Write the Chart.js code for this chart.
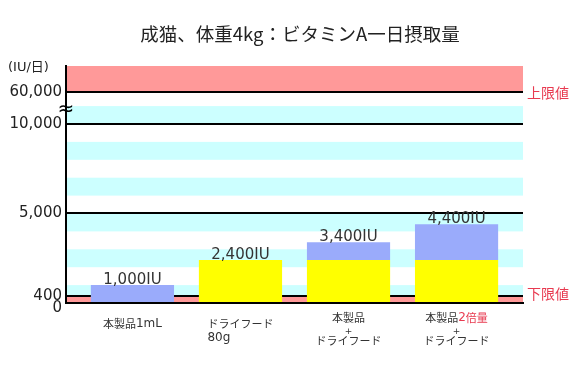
<!DOCTYPE html>
<html>
<head>
<meta charset="utf-8">
<script src="https://cdn.jsdelivr.net/npm/chart.js@4.4.0/dist/chart.umd.min.js"></script>
<style>
  body { margin: 0; background: #fff; }
  #wrap { width: 580px; height: 365px; }
</style>
</head>
<body>
<div id="wrap"><canvas id="myChart" width="580" height="365"></canvas></div>
<script>
// データ
var chartTitle = '成猫、体重4kg：ビタミンA一日摂取量';
var unitLabel = '(IU/日)';
var categories = [
    ['本製品1mL'],
    ['ドライフード', '80g'],
    ['本製品', '+', 'ドライフード'],
    ['本製品2倍量', '+', 'ドライフード']
];
var redPart = ['', '', '', '2倍量'];
var dryFood = [0, 2400, 2400, 2400];
var product = [1000, 0, 1000, 2000];
var yTicks = [0, 400, 5000, 10000, 60000];
var yTickLabels = ['0', '400', '5,000', '10,000', '60,000'];
var lowerLimit = 400;
var upperLimit = 60000;
var axisBreak = 10000;
var limitLabels = ['上限値', '下限値'];

var RED = '#e83a50';
var xLabelAlign = ['center', 'left', 'center', 'center'];
var CJK_FONT = '11px "Noto Sans CJK JP"';
var LATIN_FONT = '12px "DejaVu Sans"';

// 10,000 から上は軸を詰める (≈)
function toAxis(v) {
    if (v <= axisBreak) return v;
    return axisBreak + (v - axisBreak) * 0.0358;
}

function points(arr) {
    return arr.map(function (v, i) { return { x: i + 1, y: toAxis(v) }; });
}

// 英数字と日本語でフォントを分けて書く
function runs(text) {
    return text.match(/[\x00-\x7f]+|[^\x00-\x7f]+/g) || [];
}
function runsWidth(ctx, text) {
    var w = 0;
    runs(text).forEach(function (r) {
        ctx.font = /^[\x00-\x7f]/.test(r) ? LATIN_FONT : CJK_FONT;
        w += ctx.measureText(r).width;
    });
    return w;
}
function drawRuns(ctx, text, x, y, color) {
    ctx.fillStyle = color;
    ctx.textAlign = 'left';
    runs(text).forEach(function (r) {
        ctx.font = /^[\x00-\x7f]/.test(r) ? LATIN_FONT : CJK_FONT;
        ctx.fillText(r, x, y);
        x += ctx.measureText(r).width;
    });
    return x;
}

var backPlugin = {
    id: 'back',
    beforeDraw: function (chart) {
        var ctx = chart.ctx, area = chart.chartArea, ys = chart.scales.y;
        var w = area.right - area.left;
        ctx.save();
        ctx.fillStyle = '#ccffff';
        for (var s = 0; s <= axisBreak; s += 2000) {
            var top = ys.getPixelForValue(s + 1000);
            var bot = ys.getPixelForValue(Math.max(s, lowerLimit));
            ctx.fillRect(area.left, top, w, bot - top);
        }
        ctx.fillStyle = '#ff9999';
        var t = ys.getPixelForValue(toAxis(upperLimit));
        ctx.fillRect(area.left, area.top, w, t - area.top);
        var b = ys.getPixelForValue(lowerLimit);
        ctx.fillRect(area.left, b, w, area.bottom - b);
        ctx.restore();
    }
};

var labelPlugin = {
    id: 'labels',
    afterDatasetsDraw: function (chart) {
        var ctx = chart.ctx, area = chart.chartArea;
        var xs = chart.scales.x, ys = chart.scales.y;
        ctx.save();

        // 下の軸線
        ctx.strokeStyle = '#000';
        ctx.lineWidth = 2;
        ctx.beginPath();
        ctx.moveTo(area.left - 1, area.bottom);
        ctx.lineTo(area.right, area.bottom);
        ctx.stroke();

        // 棒の上の値
        ctx.fillStyle = '#333';
        ctx.font = '15px "DejaVu Sans"';
        ctx.textAlign = 'center';
        ctx.textBaseline = 'alphabetic';
        for (var i = 0; i < categories.length; i++) {
            var total = dryFood[i] + product[i];
            ctx.fillText(total.toLocaleString('en-US') + 'IU',
                xs.getPixelForValue(i + 1), ys.getPixelForValue(toAxis(total)) - 1);
        }

        // x ラベル
        ctx.textBaseline = 'middle';
        categories.forEach(function (lines, i) {
            var cx = xs.getPixelForValue(i + 1);
            var yy = area.bottom + (lines.length > 2 ? 15 : 20.5);
            var maxW = 0;
            lines.forEach(function (l) { maxW = Math.max(maxW, runsWidth(ctx, l)); });
            lines.forEach(function (line) {
                if (line === '+') {
                    ctx.font = '9px "DejaVu Sans"';
                    ctx.fillStyle = '#333';
                    ctx.textAlign = 'center';
                    ctx.fillText(line, cx, yy);
                    yy += 9;
                    return;
                }
                var w = runsWidth(ctx, line);
                var start = xLabelAlign[i] === 'left' ? cx - maxW / 2 : cx - w / 2;
                var red = redPart[i];
                if (red && line.slice(-red.length) === red) {
                    var pre = line.slice(0, line.length - red.length);
                    var nx = drawRuns(ctx, pre, start, yy, '#333');
                    drawRuns(ctx, red, nx, yy, RED);
                } else {
                    drawRuns(ctx, line, start, yy, '#333');
                }
                yy += 14;
            });
        });

        // y ラベル
        ctx.font = '15px "DejaVu Sans"';
        ctx.fillStyle = '#222';
        ctx.textAlign = 'right';
        yTicks.forEach(function (v, i) {
            var py = ys.getPixelForValue(toAxis(v));
            if (v === 0) py += 5;
            ctx.fillText(yTickLabels[i], area.left - 4, py);
        });

        ctx.font = '13px "DejaVu Sans", "Noto Sans CJK JP"';
        ctx.textAlign = 'left';
        ctx.fillText(unitLabel, 8, area.top + 2);

        // 省略記号
        ctx.font = '20px "DejaVu Sans"';
        ctx.textAlign = 'center';
        ctx.fillStyle = '#000';
        var pBreak = (ys.getPixelForValue(axisBreak) + ys.getPixelForValue(toAxis(upperLimit))) / 2;
        ctx.fillText('≈', area.left, pBreak + 2);

        // 上限値・下限値
        ctx.font = '14px "Noto Sans CJK JP"';
        ctx.fillStyle = RED;
        ctx.textAlign = 'left';
        ctx.fillText(limitLabels[0], area.right + 4, ys.getPixelForValue(toAxis(upperLimit)) + 1);
        ctx.fillText(limitLabels[1], area.right + 4, ys.getPixelForValue(lowerLimit) - 2);

        // タイトル
        ctx.font = '18.5px "Noto Sans CJK JP"';
        ctx.fillStyle = '#222';
        ctx.textAlign = 'center';
        ctx.fillText(chartTitle, chart.width / 2 + 10, 34);

        ctx.restore();
    }
};

var ctx = document.getElementById('myChart').getContext('2d');

var chart = new Chart(ctx, {
    type: 'bar',
    data: {
        datasets: [{
            label: 'ドライフード',
            backgroundColor: '#ffff00',
            data: points(dryFood)
        }, {
            label: '本製品',
            backgroundColor: '#9aabfb',
            data: points(product)
        }]
    },
    options: {
        responsive: false,
        animation: false,
        layout: { padding: { top: 66, right: 57, left: 0, bottom: 0 } },
        categoryPercentage: 1,
        barPercentage: 0.77,
        plugins: {
            legend: { display: false },
            tooltip: { enabled: false }
        },
        scales: {
            x: {
                type: 'linear',
                stacked: true,
                offset: false,
                min: 0.385,
                max: 4.615,
                afterBuildTicks: function (scale) {
                    scale.ticks = categories.map(function (c, i) { return { value: i + 1 }; });
                },
                afterFit: function (scale) { scale.height = 62; },
                ticks: { display: false },
                grid: { display: false },
                border: { display: true, color: '#000', width: 2 }
            },
            y: {
                stacked: true,
                min: 0,
                max: 13240,
                afterBuildTicks: function (scale) {
                    scale.ticks = yTicks.map(function (v) { return { value: toAxis(v) }; });
                },
                afterFit: function (scale) { scale.width = 66; },
                ticks: { display: false },
                grid: {
                    drawTicks: false,
                    lineWidth: 2,
                    color: function (c) {
                        return c.tick && c.tick.value === 0 ? 'rgba(0,0,0,0)' : '#000';
                    }
                },
                border: { display: true, color: '#000', width: 2 }
            }
        }
    },
    plugins: [backPlugin, labelPlugin]
});
</script>
</body>
</html>
